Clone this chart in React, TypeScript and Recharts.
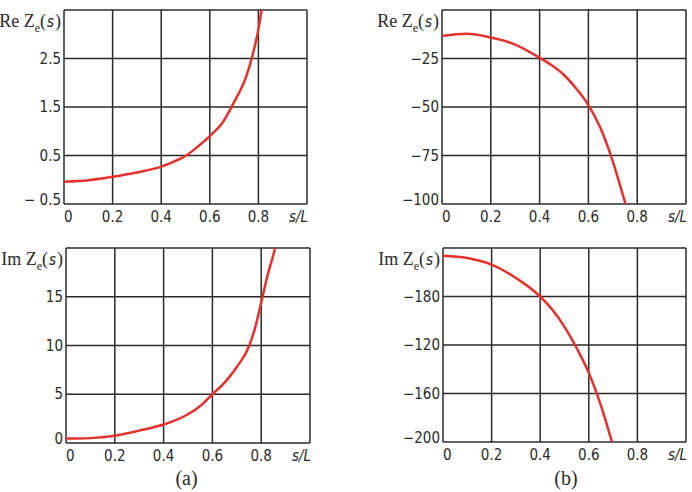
import { CartesianGrid, Line, LineChart, XAxis, YAxis } from 'recharts';

// shared x axis (s/L)
const xTicks = [0, 0.2, 0.4, 0.6, 0.8, 1];
const xLabels = ['0', '0.2', '0.4', '0.6', '0.8', 's/L'];

// (a) Re Ze(s)
const sReA = [0, 0.1, 0.2, 0.3, 0.4, 0.45, 0.5, 0.55, 0.6, 0.65, 0.7, 0.75, 0.775, 0.8, 0.82];
const reA = [-0.04, -0.01, 0.06, 0.15, 0.27, 0.37, 0.49, 0.68, 0.9, 1.16, 1.6, 2.13, 2.55, 3.1, 3.75];
const reATicks = [-0.5, 0.5, 1.5, 2.5, 3.5];
const reALabels = ['\u2212 0.5', '0.5', '1.5', '2.5'];

// (b) Re Ze(s)
const sReB = [0, 0.1, 0.2, 0.3, 0.4, 0.45, 0.5, 0.55, 0.6, 0.65, 0.7, 0.75, 0.77];
const reB = [-13.4, -12.3, -14.2, -17.8, -24.6, -28.5, -33.5, -40.5, -49, -61, -78, -99, -107];
const reBTicks = [-100, -75, -50, -25, 0];
const reBLabels = ['\u2212100', '\u221275', '\u221250', '\u221225'];

// (a) Im Ze(s)
const sImA = [0, 0.1, 0.2, 0.3, 0.4, 0.45, 0.5, 0.55, 0.6, 0.65, 0.7, 0.75, 0.775, 0.8, 0.825, 0.86, 0.87];
const imA = [0.45, 0.5, 0.75, 1.27, 1.9, 2.35, 2.95, 3.8, 5.0, 6.2, 7.8, 9.9, 11.8, 14.4, 17.1, 20.3, 21.5];
const imATicks = [0, 5, 10, 15, 20];
const imALabels = ['0', '5', '10', '15'];

// (b) Im Ze(s)
const sImB = [0, 0.1, 0.2, 0.3, 0.4, 0.45, 0.5, 0.55, 0.6, 0.65, 0.7, 0.72];
const imB = [-46.3, -48.2, -53.7, -64.7, -80, -91, -105, -122.5, -143, -170, -203, -216];
const imBTicks = [-200, -160, -120, -80, -40];
const imBLabels = ['\u2212200', '\u2212160', '\u2212120', '\u2212180'];

const TICK_FONT = '"Liberation Sans Narrow", "DejaVu Sans Condensed", "Liberation Sans", sans-serif';
const SERIF = '"Liberation Serif", "DejaVu Serif", serif';
const INK = '#2a2a2a';
const RED = '#e5302d';

function XTick(props: any) {
  const { x, y, payload } = props;
  const i = xTicks.indexOf(payload.value);
  if (i === xTicks.length - 1) {
    return (
      <text x={x + 1} y={y + 18} textAnchor="end" fontFamily={TICK_FONT} fontSize={15} fontStyle="italic" fill={INK}>
        s/L
      </text>
    );
  }
  return (
    <text x={x} y={y + 18} textAnchor={i === 0 ? 'start' : 'middle'} fontFamily={TICK_FONT} fontSize={15} fill={INK}>
      {xLabels[i]}
    </text>
  );
}

function makeYTick(ticks: number[], labels: string[], name: string) {
  return (props: any) => {
    const { x, y, payload } = props;
    const i = ticks.indexOf(payload.value);
    if (i === ticks.length - 1) {
      return (
        <text x={x} y={y + 17} textAnchor="end" fontFamily={SERIF} fontSize={18} fill={INK}>
          {name} Z
          <tspan fontSize={12} dy={5}>e</tspan>
          <tspan dy={-5}>(</tspan>
          <tspan fontFamily={TICK_FONT} fontStyle="italic" fontSize={15} dx={1}>s</tspan>
          <tspan dx={1}>)</tspan>
        </text>
      );
    }
    const shift = i === 0 ? -4 : 0;
    return (
      <text x={x} y={y + 5 + shift} textAnchor="end" fontFamily={TICK_FONT} fontSize={15} fill={INK}>
        {labels[i]}
      </text>
    );
  };
}

interface PanelProps {
  left: number;
  top: number;
  plot: { l: number; t: number; r: number; b: number };
  s: number[];
  v: number[];
  ticks: number[];
  labels: string[];
  name: string;
}

function Panel({ left, top, plot, s, v, ticks, labels, name }: PanelProps) {
  const W = 346;
  const H = 246;
  const data = s.map((sv, i) => ({ s: sv, v: v[i] }));
  return (
    <div style={{ position: 'absolute', left, top }}>
      <LineChart
        width={W}
        height={H}
        data={data}
        margin={{ top: plot.t - top, right: left + W - plot.r, bottom: top + H - plot.b - 30, left: 0 }}
      >
        <CartesianGrid stroke={INK} strokeWidth={1.5} />
        <XAxis
          dataKey="s"
          type="number"
          domain={[0, 1]}
          ticks={xTicks}
          interval={0}
          height={30}
          axisLine={false}
          tickLine={false}
          tickSize={0}
          tickMargin={0}
          tick={<XTick />}
        />
        <YAxis
          type="number"
          domain={[ticks[0], ticks[ticks.length - 1]]}
          ticks={ticks}
          interval={0}
          allowDataOverflow
          width={plot.l - left}
          axisLine={false}
          tickLine={false}
          tickSize={0}
          tickMargin={3}
          tick={makeYTick(ticks, labels, name)}
        />
        <Line dataKey="v" type="monotone" stroke={RED} strokeWidth={2.5} dot={false} isAnimationActive={false} />
      </LineChart>
    </div>
  );
}

export default function App() {
  return (
    <div style={{ position: 'absolute', left: 0, top: 0, width: 692, height: 492, background: '#fff' }}>
      <Panel left={0} top={0} plot={{ l: 64, t: 10, r: 307, b: 204 }} s={sReA} v={reA} ticks={reATicks} labels={reALabels} name="Re" />
      <Panel left={346} top={0} plot={{ l: 442, t: 10, r: 686, b: 204 }} s={sReB} v={reB} ticks={reBTicks} labels={reBLabels} name="Re" />
      <Panel left={0} top={246} plot={{ l: 66, t: 248, r: 310, b: 443 }} s={sImA} v={imA} ticks={imATicks} labels={imALabels} name="Im" />
      <Panel left={346} top={246} plot={{ l: 443, t: 248, r: 686, b: 442 }} s={sImB} v={imB} ticks={imBTicks} labels={imBLabels} name="Im" />
      <svg width={692} height={492} style={{ position: 'absolute', left: 0, top: 0, pointerEvents: 'none' }}>
        <text x={186.5} y={485} textAnchor="middle" fontFamily={SERIF} fontSize={20} fill={INK}>(a)</text>
        <text x={566} y={485} textAnchor="middle" fontFamily={SERIF} fontSize={20} fill={INK}>(b)</text>
      </svg>
    </div>
  );
}
